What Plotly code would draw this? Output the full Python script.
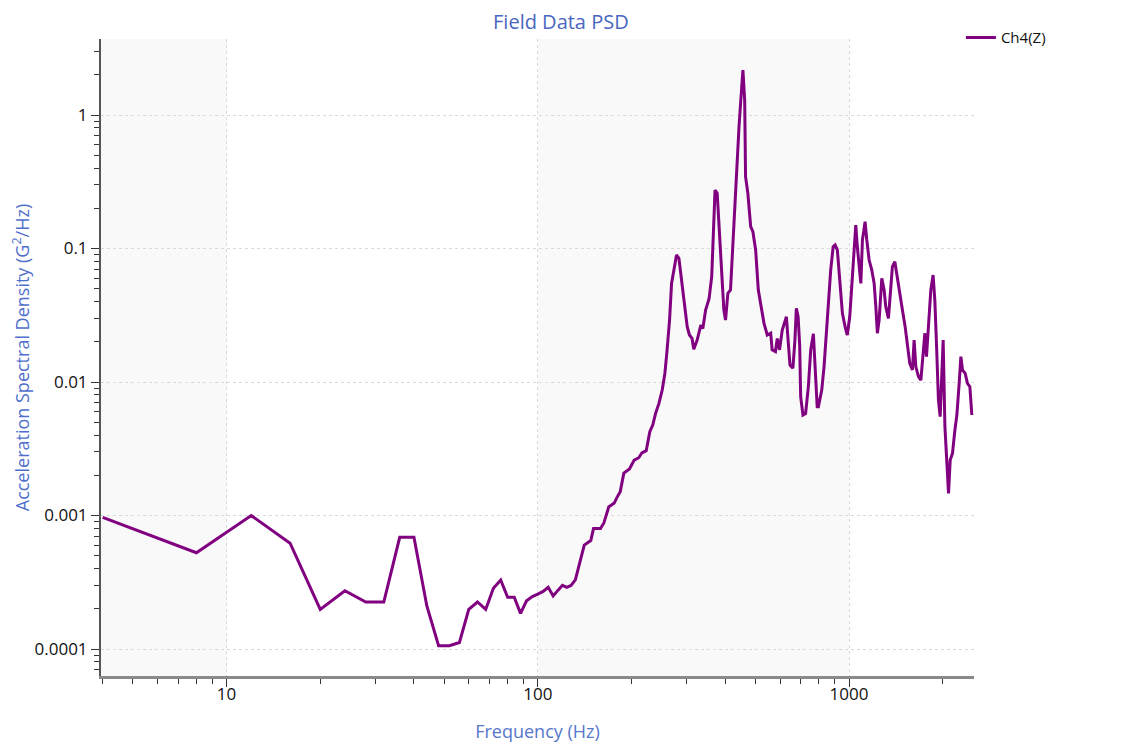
import math
import plotly.graph_objects as go

# ---- data ----
freq_hz = [4, 8, 12, 16, 20, 24, 28, 32, 36, 40, 44, 48, 52, 56, 60, 64, 68, 72, 76, 80,
           84, 88, 92, 96, 100, 104, 108, 112, 116, 120, 124, 128, 132, 138, 141, 148, 151,
           159, 163, 169, 176, 180, 184, 189, 197, 204, 211, 216, 223, 229, 234, 239, 245,
           251, 256, 260, 265, 269, 274, 279, 284, 290, 297, 302, 307, 313, 317, 325, 334,
           339, 346, 355, 362, 366, 371, 377, 384, 391, 396, 401, 408, 416, 421, 430, 437,
           443, 449, 456, 462, 465, 473, 483, 491, 501, 511, 522, 533, 546, 560, 566, 580,
           588, 598, 610, 629, 637, 646, 660, 670, 677, 686, 694, 699, 711, 725, 740, 753,
           768, 778, 790, 797, 817, 831, 846, 858, 873, 889, 902, 917, 933, 952, 971, 987,
           1005, 1020, 1038, 1051, 1063, 1077, 1091, 1104, 1126, 1140, 1160, 1183, 1204,
           1219, 1233, 1249, 1274, 1296, 1312, 1338, 1362, 1378, 1403, 1430, 1455, 1484,
           1514, 1540, 1567, 1598, 1618, 1639, 1671, 1701, 1730, 1752, 1773, 1795, 1831,
           1862, 1886, 1909, 1937, 1962, 1987, 2006, 2032, 2062, 2087, 2113, 2149, 2188,
           2220, 2258, 2287, 2314, 2361, 2401, 2444, 2480]

psd_g2hz = [0.00097, 0.000526, 0.001, 0.00062, 0.000198, 0.000273, 0.000225, 0.000225,
            0.000687, 0.000687, 0.00021, 0.000106, 0.000106, 0.000112, 0.000198, 0.000225,
            0.000198, 0.000285, 0.000329, 0.000244, 0.000244, 0.000185, 0.00023, 0.000247,
            0.000258, 0.00027, 0.00029, 0.00025, 0.000275, 0.0003, 0.00029, 0.0003, 0.00033,
            0.00048, 0.0006, 0.00065, 0.0008, 0.0008, 0.00088, 0.00116, 0.00124, 0.00138,
            0.00151, 0.00208, 0.00223, 0.0026, 0.00271, 0.00295, 0.00306, 0.00424, 0.00476,
            0.00583, 0.00692, 0.00871, 0.0116, 0.017, 0.0291, 0.0548, 0.073, 0.0894, 0.0845,
            0.0548, 0.0366, 0.026, 0.0225, 0.0212, 0.0176, 0.0206, 0.0267, 0.0252, 0.0346,
            0.042, 0.0615, 0.138, 0.274, 0.259, 0.1225, 0.069, 0.0346, 0.0291, 0.0462,
            0.0489, 0.0869, 0.231, 0.517, 0.817, 1.295, 2.17, 1.295, 0.345, 0.259, 0.1456,
            0.1336, 0.0975, 0.0489, 0.035, 0.0275, 0.0225, 0.0232, 0.0174, 0.0169, 0.0212,
            0.0174, 0.0245, 0.0308, 0.0206, 0.0134, 0.0127, 0.0206, 0.0356, 0.0308, 0.0187,
            0.00776, 0.00566, 0.0058, 0.00922, 0.0174, 0.023, 0.013, 0.00653, 0.00653,
            0.00871, 0.013, 0.0232, 0.0356, 0.069, 0.1031, 0.1062, 0.0975, 0.0548, 0.0327,
            0.026, 0.0225, 0.0308, 0.0548, 0.0975, 0.15, 0.1031, 0.0731, 0.0548, 0.1158,
            0.1588, 0.1158, 0.082, 0.069, 0.0548, 0.0366, 0.0232, 0.0291, 0.0598, 0.0489,
            0.0366, 0.03, 0.0489, 0.0731, 0.0796, 0.0615, 0.0462, 0.0346, 0.026, 0.0184,
            0.0138, 0.0123, 0.0206, 0.013, 0.01096, 0.01035, 0.0174, 0.0232, 0.0155, 0.0232,
            0.0489, 0.0633, 0.0411, 0.0195, 0.00733, 0.0055, 0.013, 0.0206, 0.00463,
            0.00232, 0.001466, 0.0026, 0.00292, 0.00437, 0.00566, 0.00977, 0.01548, 0.0123,
            0.0116, 0.00977, 0.00922, 0.00566]

series_name = "Ch4(Z)"
chart_title = "Field Data PSD"
x_title = "Frequency (Hz)"
y_title = "Acceleration Spectral Density (G<sup>2</sup>/Hz)"
x_range_hz = [3.95, 2520]
y_range = [6.28e-5, 3.71]
shaded_decades = [[3.0, 10], [100, 1000]]

# ---- figure ----
fig = go.Figure()
fig.add_trace(go.Scatter(
    x=freq_hz, y=psd_g2hz, mode="lines", name=series_name,
    line=dict(color="#800080", width=3),
    showlegend=True,
))

for lo, hi in shaded_decades:
    fig.add_shape(type="rect", xref="x", yref="paper", x0=lo, x1=hi, y0=0, y1=1,
                  fillcolor="#f9f9f9", line=dict(width=0), layer="below")

FONT = "Open Sans, Noto Sans, DejaVu Sans, sans-serif"
axis_common = dict(
    type="log",
    automargin=False,
    showgrid=True, gridcolor="#dadada", griddash="dot", gridwidth=1,
    zeroline=False,
    ticks="outside", ticklen=8, tickwidth=1, tickcolor="#333",
    tickfont=dict(family=FONT, size=17, color="#111"),
    exponentformat="none",
    dtick=1,
    minor=dict(ticks="outside", ticklen=5, tickwidth=1, tickcolor="#333",
               dtick="D1", showgrid=False),
)

fig.update_xaxes(
    **axis_common,
    range=[math.log10(x_range_hz[0]), math.log10(x_range_hz[1])],
    showline=True, linecolor="#8a8a8a", linewidth=3, mirror=False,
    ticklabelstandoff=-7,
    title=dict(text=x_title, font=dict(family=FONT, size=18, color="#5577cc"), standoff=21),
)
fig.update_yaxes(
    **axis_common,
    range=[math.log10(y_range[0]), math.log10(y_range[1])],
    showline=True, linecolor="#555", linewidth=2,
    title=dict(text=y_title, font=dict(family=FONT, size=18, color="#4f6fcc"), standoff=13),
)

fig.update_layout(
    width=1126, height=752,
    margin=dict(l=93, r=160, t=31, b=84),
    paper_bgcolor="white", plot_bgcolor="white",
    title=dict(text=chart_title, x=0.491, xref="container", xanchor="center",
               y=0.982, yref="container", yanchor="middle",
               font=dict(family=FONT, size=20, color="#4a66c0")),
    legend=dict(x=0.985, y=1.028, xanchor="left", yanchor="top",
                font=dict(family=FONT, size=15, color="#111"),
                bgcolor="rgba(0,0,0,0)", itemwidth=30),
    font=dict(family=FONT),
)

fig.write_html("out.html")
